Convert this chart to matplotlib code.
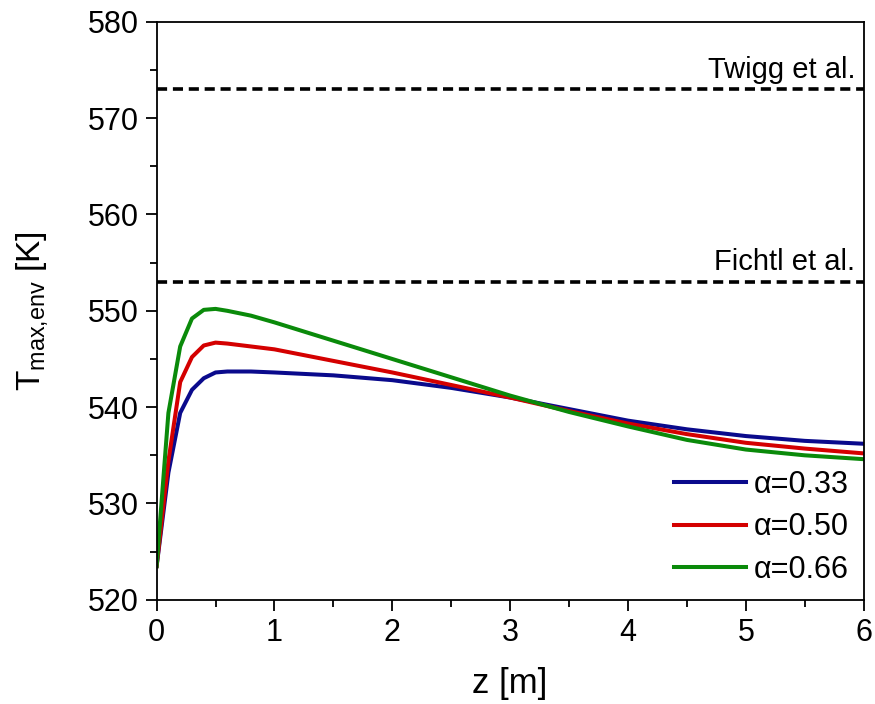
import matplotlib
matplotlib.use("Agg")
from matplotlib import pyplot as plt
from matplotlib.ticker import MultipleLocator

plt.rcParams["font.family"] = ["Liberation Sans", "DejaVu Sans"]
plt.rcParams["mathtext.fontset"] = "custom"
plt.rcParams["mathtext.rm"] = "Liberation Sans"

# axial position [m]
z = [0.0, 0.1, 0.2, 0.3, 0.4, 0.5, 0.6, 0.8, 1.0, 1.5, 2.0, 2.5, 3.0, 3.5, 4.0, 4.5, 5.0, 5.5, 6.0]

# maximum envelope temperature [K] for each alpha
t_033 = [523.5, 533.2, 539.4, 541.8, 543.0, 543.6, 543.7, 543.7, 543.6, 543.3, 542.8, 542.0, 541.0, 539.8, 538.6, 537.7, 537.0, 536.5, 536.2]
t_050 = [523.5, 534.4, 542.6, 545.2, 546.4, 546.7, 546.6, 546.3, 546.0, 544.8, 543.6, 542.3, 541.0, 539.6, 538.3, 537.2, 536.3, 535.7, 535.2]
t_066 = [523.5, 539.4, 546.3, 549.2, 550.1, 550.2, 550.0, 549.5, 548.8, 546.9, 545.0, 543.1, 541.2, 539.5, 538.0, 536.6, 535.6, 535.0, 534.6]

labels = ["\u03b1=0.33", "\u03b1=0.50", "\u03b1=0.66"]
colors = ["#0a0a8c", "#d40000", "#0a8a0a"]

# literature limits
ref_names = ["Twigg et al.", "Fichtl et al."]
ref_values = [573, 553]

fig = plt.figure(figsize=(8.75, 7.04), dpi=100)
ax = fig.add_axes([0.179, 0.148, 0.808, 0.821])

for t, lab, c in zip([t_033, t_050, t_066], labels, colors):
    ax.plot(z, t, color=c, lw=2.9, label=lab)

for name, val in zip(ref_names, ref_values):
    ax.axhline(val, color="black", lw=2.6, ls=(0, (2.8, 1.6)))
    ax.text(5.93, val + 1.2, name, ha="right", va="baseline", fontsize=21)

ax.set_xlim(0, 6)
ax.set_ylim(520, 580)
ax.xaxis.set_major_locator(MultipleLocator(1))
ax.xaxis.set_minor_locator(MultipleLocator(0.5))
ax.yaxis.set_major_locator(MultipleLocator(10))
ax.yaxis.set_minor_locator(MultipleLocator(5))
ax.tick_params(which="both", direction="out", top=False, right=False, width=1.3)
ax.tick_params(which="major", length=8, labelsize=22, pad=5)
ax.tick_params(which="minor", length=5)
for s in ax.spines.values():
    s.set_linewidth(1.3)

ax.set_xlabel("z [m]", fontsize=25, labelpad=14)
ax.set_ylabel(r"T$_{\mathregular{max{,}env}}$ [K]", fontsize=24, labelpad=26)

ax.legend(loc="lower right", frameon=False, fontsize=22, handlelength=2.35,
          handletextpad=0.25, labelspacing=0.4, borderaxespad=0.1)

fig.savefig("out.png", dpi=100)
